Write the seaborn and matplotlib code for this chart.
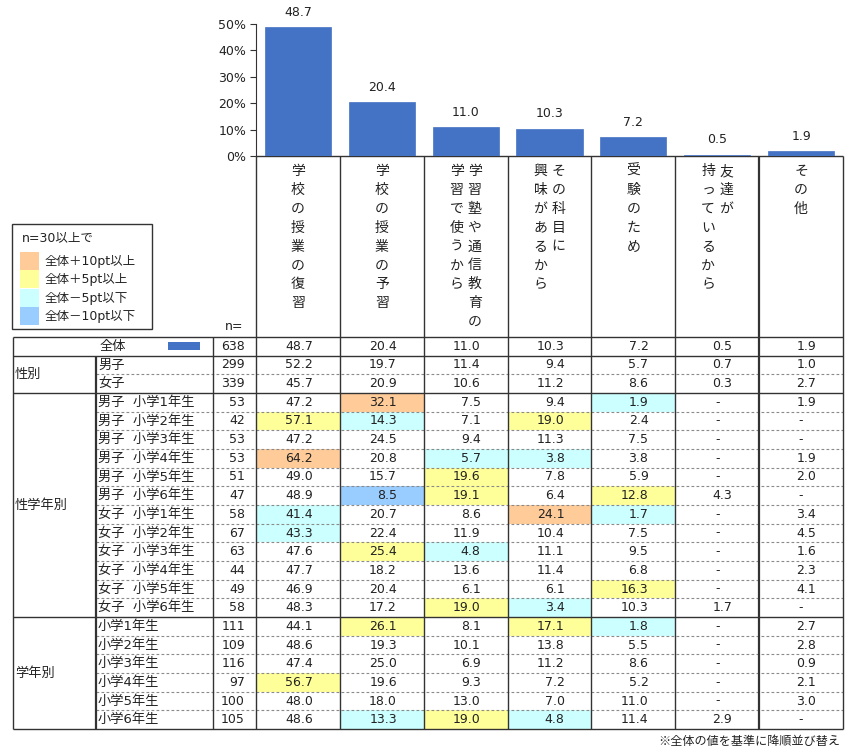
import numpy as np
import pandas as pd
import matplotlib
matplotlib.use("Agg")
import matplotlib.pyplot as plt
import seaborn as sns
from matplotlib.patches import Rectangle

# ---------------- data ----------------
categories = ["学校の授業の復習", "学校の授業の予習", "学習塾や通信教育の学習で使うから",
              "その科目に興味があるから", "受験のため", "友達が持っているから", "その他"]
header_lines = [["学校の授業の復習"], ["学校の授業の予習"], ["学習塾や通信教育の", "学習で使うから"],
                ["その科目に", "興味があるから"], ["受験のため"], ["友達が", "持っているから"], ["その他"]]
overall = [48.7, 20.4, 11.0, 10.3, 7.2, 0.5, 1.9]
ytick_values = [0, 10, 20, 30, 40, 50]
ytick_labels = ["0%", "10%", "20%", "30%", "40%", "50%"]

row_labels = ["全体", "男子", "女子",
              "男子　小学1年生", "男子　小学2年生", "男子　小学3年生", "男子　小学4年生",
              "男子　小学5年生", "男子　小学6年生",
              "女子　小学1年生", "女子　小学2年生", "女子　小学3年生", "女子　小学4年生",
              "女子　小学5年生", "女子　小学6年生",
              "小学1年生", "小学2年生", "小学3年生", "小学4年生", "小学5年生", "小学6年生"]
group_labels = ["", "性別", "性学年別", "学年別"]
group_starts = [0, 1, 3, 15]
group_ends = [1, 3, 15, 21]
n_values = [638, 299, 339, 53, 42, 53, 53, 51, 47, 58, 67, 63, 44, 49, 58, 111, 109, 116, 97, 100, 105]

col_review = [48.7, 52.2, 45.7, 47.2, 57.1, 47.2, 64.2, 49.0, 48.9, 41.4, 43.3, 47.6, 47.7, 46.9, 48.3,
              44.1, 48.6, 47.4, 56.7, 48.0, 48.6]
col_preview = [20.4, 19.7, 20.9, 32.1, 14.3, 24.5, 20.8, 15.7, 8.5, 20.7, 22.4, 25.4, 18.2, 20.4, 17.2,
               26.1, 19.3, 25.0, 19.6, 18.0, 13.3]
col_juku = [11.0, 11.4, 10.6, 7.5, 7.1, 9.4, 5.7, 19.6, 19.1, 8.6, 11.9, 4.8, 13.6, 6.1, 19.0,
            8.1, 10.1, 6.9, 9.3, 13.0, 19.0]
col_interest = [10.3, 9.4, 11.2, 9.4, 19.0, 11.3, 3.8, 7.8, 6.4, 24.1, 10.4, 11.1, 11.4, 6.1, 3.4,
                17.1, 13.8, 11.2, 7.2, 7.0, 4.8]
col_exam = [7.2, 5.7, 8.6, 1.9, 2.4, 7.5, 3.8, 5.9, 12.8, 1.7, 7.5, 9.5, 6.8, 16.3, 10.3,
            1.8, 5.5, 8.6, 5.2, 11.0, 11.4]
col_friends = [0.5, 0.7, 0.3, None, None, None, None, None, 4.3, None, None, None, None, None, 1.7,
               None, None, None, None, None, 2.9]
col_other = [1.9, 1.0, 2.7, 1.9, None, None, 1.9, 2.0, None, 3.4, 4.5, 1.6, 2.3, 4.1, None,
             2.7, 2.8, 0.9, 2.1, 3.0, None]
columns = [col_review, col_preview, col_juku, col_interest, col_exam, col_friends, col_other]

legend_title = "n=30以上で"
legend_labels = ["全体＋10pt以上", "全体＋5pt以上", "全体－5pt以下", "全体－10pt以下"]
legend_colors = ["#FFCC99", "#FFFF99", "#CCFFFF", "#99CCFF"]
footnote = "※全体の値を基準に降順並び替え"

BAR_COLOR = "#4472C4"
LINE = "#333333"
TXT = "#222222"


def highlight(value, base, n):
    if value is None or n < 30:
        return None
    d = round(value - base, 1)
    if d >= 10:
        return legend_colors[0]
    if d >= 5:
        return legend_colors[1]
    if d <= -10:
        return legend_colors[3]
    if d <= -5:
        return legend_colors[2]
    return None


# ---------------- layout (pixels) ----------------
W, H = 853, 750
X_LEFT, X_GROUP, X_N, X_DATA, X_RIGHT = 13, 96, 213, 256, 843
COL_W = (X_RIGHT - X_DATA) / 7
Y_BASE, Y_TOP = 156, 24
Y_TABLE, Y_BOTTOM = 337, 729
ROW_H = (Y_BOTTOM - Y_TABLE) / 21
FS = 9
FS_JP = 9.5
FS_HEAD = 10
JP = ["Noto Sans CJK JP", "DejaVu Sans"]

sns.set_theme(style="white")
plt.rcParams["font.family"] = ["DejaVu Sans", "Noto Sans CJK JP"]
plt.rcParams["text.color"] = TXT

fig = plt.figure(figsize=(W / 100, H / 100), dpi=100)

# table overlay axes in pixel coordinates
tax = fig.add_axes([0, 0, 1, 1], zorder=1)
tax.set_xlim(0, W)
tax.set_ylim(H, 0)
tax.axis("off")
tax.patch.set_alpha(0)

# ---------------- bar chart ----------------
bax = fig.add_axes([X_DATA / W, (H - Y_BASE) / H, (X_RIGHT - X_DATA) / W, (Y_BASE - Y_TOP) / H], zorder=2)
bax.patch.set_alpha(0)
df = pd.DataFrame({"cat": categories, "val": overall})
sns.barplot(data=df, x="cat", y="val", color=BAR_COLOR, saturation=1, width=0.79, ax=bax)
bax.set_xlim(-0.5, 6.5)
bax.set_ylim(0, 50)
bax.set_yticks(ytick_values)
bax.set_yticklabels(ytick_labels, fontsize=FS, color=TXT)
bax.set_xticks([])
bax.set_xlabel("")
bax.set_ylabel("")
bax.tick_params(axis="y", which="both", left=True, length=4, width=0.8, color=LINE, pad=3)
for s in ["top", "right", "bottom"]:
    bax.spines[s].set_visible(False)
bax.spines["left"].set_color(LINE)
bax.spines["left"].set_linewidth(0.8)
for p, v in zip(bax.patches, overall):
    p.set_edgecolor(BAR_COLOR)
    p.set_linewidth(0.5)
    bax.annotate(f"{v:.1f}", (p.get_x() + p.get_width() / 2, p.get_height()),
                 xytext=(0, 6), textcoords="offset points", ha="center", va="bottom",
                 fontsize=FS, color=TXT, annotation_clip=False)


def hline(y, x0, x1, lw=0.9, color=LINE, ls="-"):
    tax.plot([x0, x1], [y, y], color=color, lw=lw, ls=ls, solid_capstyle="butt", zorder=3)


def vline(x, y0, y1, lw=0.9, color=LINE):
    tax.plot([x, x], [y0, y1], color=color, lw=lw, solid_capstyle="butt", zorder=3)


def row_y(i):
    return Y_TABLE + i * ROW_H


# ---------------- header texts (vertical) ----------------
CH_STEP = 18.9
for c, lines in enumerate(header_lines):
    cx = X_DATA + (c + 0.5) * COL_W
    if len(lines) == 1:
        xs = [cx]
    else:
        xs = [cx + 9, cx - 9]
    for line, x in zip(lines, xs):
        for k, ch in enumerate(line):
            tax.text(x, 171 + k * CH_STEP, ch, ha="center", va="center", fontsize=FS_HEAD,
                     family=JP, color=TXT)

# ---------------- cell fills ----------------
for c, col in enumerate(columns):
    for i, v in enumerate(col):
        color = highlight(v, overall[c], n_values[i]) if i > 0 else None
        if color:
            tax.add_patch(Rectangle((X_DATA + c * COL_W, row_y(i)), COL_W, ROW_H,
                                    facecolor=color, edgecolor="none", zorder=1))

# ---------------- table texts ----------------
for i, lab in enumerate(row_labels):
    yc = row_y(i) + ROW_H / 2
    shown = lab.replace("\u3000", "  ")
    tax.text(X_GROUP + 2 if i > 0 else 100, yc, shown, ha="left", va="center", fontsize=FS_JP)
    tax.text(X_DATA - 11, yc, f"{n_values[i]}", ha="right", va="center", fontsize=FS)
    for c, col in enumerate(columns):
        v = col[i]
        x0 = X_DATA + c * COL_W
        if v is None:
            tax.text(x0 + COL_W / 2, yc, "-", ha="center", va="center", fontsize=FS)
        else:
            tax.text(x0 + 57, yc, f"{v:.1f}", ha="right", va="center", fontsize=FS)

# swatch in 全体 row
tax.add_patch(Rectangle((168, row_y(0) + 5), 32, 8, facecolor=BAR_COLOR, edgecolor="none", zorder=2))

for g, s, e in zip(group_labels, group_starts, group_ends):
    if g:
        tax.text(15, (row_y(s) + row_y(e)) / 2, g, ha="left", va="center", fontsize=FS_JP, family=JP)

# ---------------- grid lines ----------------
for s, e in zip(group_starts, group_ends):
    for i in range(s + 1, e):
        hline(row_y(i), X_GROUP, X_RIGHT, lw=0.8, color="#8a8a8a", ls=(0, (2.5, 2)))
for y in [Y_TABLE, row_y(1), row_y(3), row_y(15), Y_BOTTOM]:
    hline(y, X_LEFT, X_RIGHT, lw=1.0)
hline(Y_BASE, X_DATA, X_RIGHT, lw=1.0)
vline(X_LEFT, Y_TABLE, Y_BOTTOM, lw=1.0)
vline(X_GROUP, row_y(1), Y_BOTTOM, lw=1.6)
vline(X_N, Y_TABLE, Y_BOTTOM, lw=1.0)
for c in range(8):
    x = X_DATA + c * COL_W
    vline(x, Y_BASE, Y_BOTTOM, lw=1.6 if c == 6 else 1.0)

# ---------------- legend ----------------
tax.add_patch(Rectangle((12, 224), 140, 105, facecolor="white", edgecolor=LINE, lw=1.0, zorder=2))
tax.text(22, 238, legend_title, ha="left", va="center", fontsize=FS, zorder=4)
sw_tops = [252, 270, 289, 307]
for t, lab, col in zip(sw_tops, legend_labels, legend_colors):
    tax.add_patch(Rectangle((20, t), 19, 17.5, facecolor=col, edgecolor="none", zorder=3))
    tax.text(45, t + 9, lab, ha="left", va="center", fontsize=FS, zorder=4)

tax.text(243, 327, "n=", ha="right", va="center", fontsize=FS)
tax.text(840, 741, footnote, ha="right", va="center", fontsize=8.7, family=JP)

fig.savefig("out.png", dpi=100)
